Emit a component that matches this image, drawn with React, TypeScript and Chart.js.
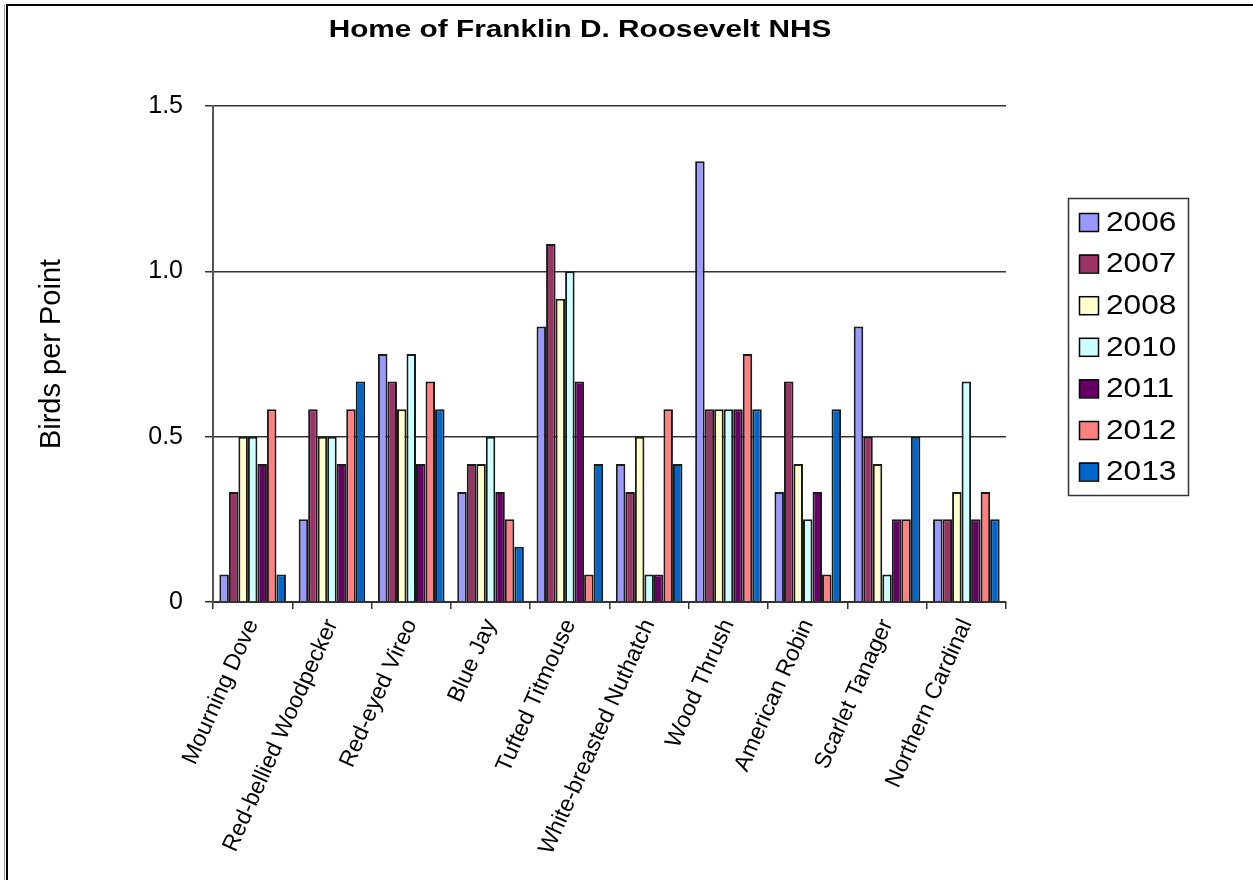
import React, { useEffect, useRef } from "react";
import { Chart, registerables } from "chart.js";

Chart.register(...registerables);

const titleText = "Home of Franklin D. Roosevelt NHS";
const yAxisTitle = "Birds per Point";
const categories = [
  "Mourning Dove",
  "Red-bellied Woodpecker",
  "Red-eyed Vireo",
  "Blue Jay",
  "Tufted Titmouse",
  "White-breasted Nuthatch",
  "Wood Thrush",
  "American Robin",
  "Scarlet Tanager",
  "Northern Cardinal",
];
const years = ["2006", "2007", "2008", "2010", "2011", "2012", "2013"];
const v2006 = [0.083, 0.25, 0.75, 0.333, 0.833, 0.417, 1.333, 0.333, 0.833, 0.25];
const v2007 = [0.333, 0.583, 0.667, 0.417, 1.083, 0.333, 0.583, 0.667, 0.5, 0.25];
const v2008 = [0.5, 0.5, 0.583, 0.417, 0.917, 0.5, 0.583, 0.417, 0.417, 0.333];
const v2010 = [0.5, 0.5, 0.75, 0.5, 1.0, 0.083, 0.583, 0.25, 0.083, 0.667];
const v2011 = [0.417, 0.417, 0.417, 0.333, 0.667, 0.083, 0.583, 0.333, 0.25, 0.25];
const v2012 = [0.583, 0.583, 0.667, 0.25, 0.083, 0.583, 0.75, 0.083, 0.25, 0.333];
const v2013 = [0.083, 0.667, 0.583, 0.167, 0.417, 0.417, 0.583, 0.583, 0.5, 0.25];
const seriesValues = [v2006, v2007, v2008, v2010, v2011, v2012, v2013];
const colors = ["#9999FF", "#993366", "#FFFFCC", "#CCFFFF", "#660066", "#FF8080", "#0066CC"];
const yTickValues = [0, 0.5, 1.0, 1.5];

const FONT = '"Liberation Sans", Arial, sans-serif';

const overlayPlugin = {
  id: "overlay",
  afterDraw(chart: any) {
    const ctx = chart.ctx;
    ctx.save();
    ctx.fillStyle = "#000";
    ctx.textAlign = "center";
    ctx.textBaseline = "middle";
    ctx.font = `bold 24px ${FONT}`;
    ctx.save();
    ctx.translate(580, 30);
    ctx.scale(1.24, 1);
    ctx.fillText(titleText, 0, 0);
    ctx.restore();

    // legend box
    ctx.strokeStyle = "#333";
    ctx.lineWidth = 1.5;
    ctx.strokeRect(1068.5, 198.5, 120, 297);
    ctx.textAlign = "left";
    ctx.font = `28px ${FONT}`;
    chart.data.datasets.forEach((ds: any, i: number) => {
      const cy = 222 + i * 41.6;
      ctx.fillStyle = ds.backgroundColor;
      ctx.fillRect(1079, cy - 9, 19, 18);
      ctx.strokeStyle = "#000";
      ctx.lineWidth = 1.5;
      ctx.strokeRect(1079.5, cy - 8.5, 19, 18);
      ctx.fillStyle = "#000";
      ctx.save();
      ctx.translate(1106, cy + 1);
      ctx.scale(1.13, 1);
      ctx.fillText(ds.label, 0, 0);
      ctx.restore();
    });
    ctx.restore();
  },
};

export default function App() {
  const ref = useRef<HTMLCanvasElement>(null);
  useEffect(() => {
    if (!ref.current) return;
    const chart = new Chart(ref.current, {
      type: "bar",
      data: {
        labels: categories,
        datasets: years.map((y, i) => ({
          label: y,
          data: seriesValues[i],
          backgroundColor: colors[i],
          borderColor: "#1a1a1a",
          borderWidth: 2,
          barPercentage: 1.0,
          categoryPercentage: 0.84,
        })),
      },
      options: {
        animation: false,
        responsive: false,
        devicePixelRatio: 1,
        layout: { padding: { left: 0, top: 106, right: 247, bottom: 0 } },
        plugins: {
          legend: { display: false },
          title: { display: false },
          tooltip: { enabled: false },
        },
        scales: {
          x: {
            afterFit: (s: any) => {
              s.height = 278;
            },
            grid: {
              offset: true,
              drawOnChartArea: false,
              drawTicks: true,
              tickLength: 7,
              color: "#333",
              lineWidth: 1.5,
            },
            border: { color: "#333", width: 2 },
            ticks: {
              color: "#000",
              font: { family: FONT, size: 23 },
              minRotation: 66,
              maxRotation: 66,
              padding: 6,
              autoSkip: false,
            },
          },
          y: {
            min: 0,
            max: 1.5,
            afterFit: (s: any) => {
              s.width = 213;
            },
            afterBuildTicks: (s: any) => {
              s.ticks = yTickValues.map((v) => ({ value: v }));
            },
            grid: {
              color: "#333",
              lineWidth: 1.5,
              tickLength: 8,
              drawTicks: true,
            },
            border: { color: "#555", width: 2 },
            ticks: {
              color: "#000",
              font: { family: FONT, size: 25 },
              padding: 22,
              callback: (v: any) => (Number(v) === 0 ? "0" : Number(v).toFixed(1)),
            },
            title: {
              display: true,
              text: yAxisTitle,
              color: "#000",
              font: { family: FONT, size: 29 },
              padding: { top: 35, bottom: 0 },
            },
          },
        },
      },
      plugins: [overlayPlugin],
    });
    return () => chart.destroy();
  }, []);

  return (
    <div style={{ position: "fixed", left: 0, top: 0, width: 1253, height: 880, background: "#fff" }}>
      <div style={{ position: "absolute", left: 4, top: 5, width: 1, height: 875, background: "#999" }} />
      <div style={{ position: "absolute", left: 6, top: 4, width: 1247, height: 2, background: "#000" }} />
      <div style={{ position: "absolute", left: 6, top: 4, width: 2, height: 876, background: "#000" }} />
      <canvas ref={ref} width={1253} height={880} style={{ position: "absolute", left: 0, top: 0 }} />
    </div>
  );
}
